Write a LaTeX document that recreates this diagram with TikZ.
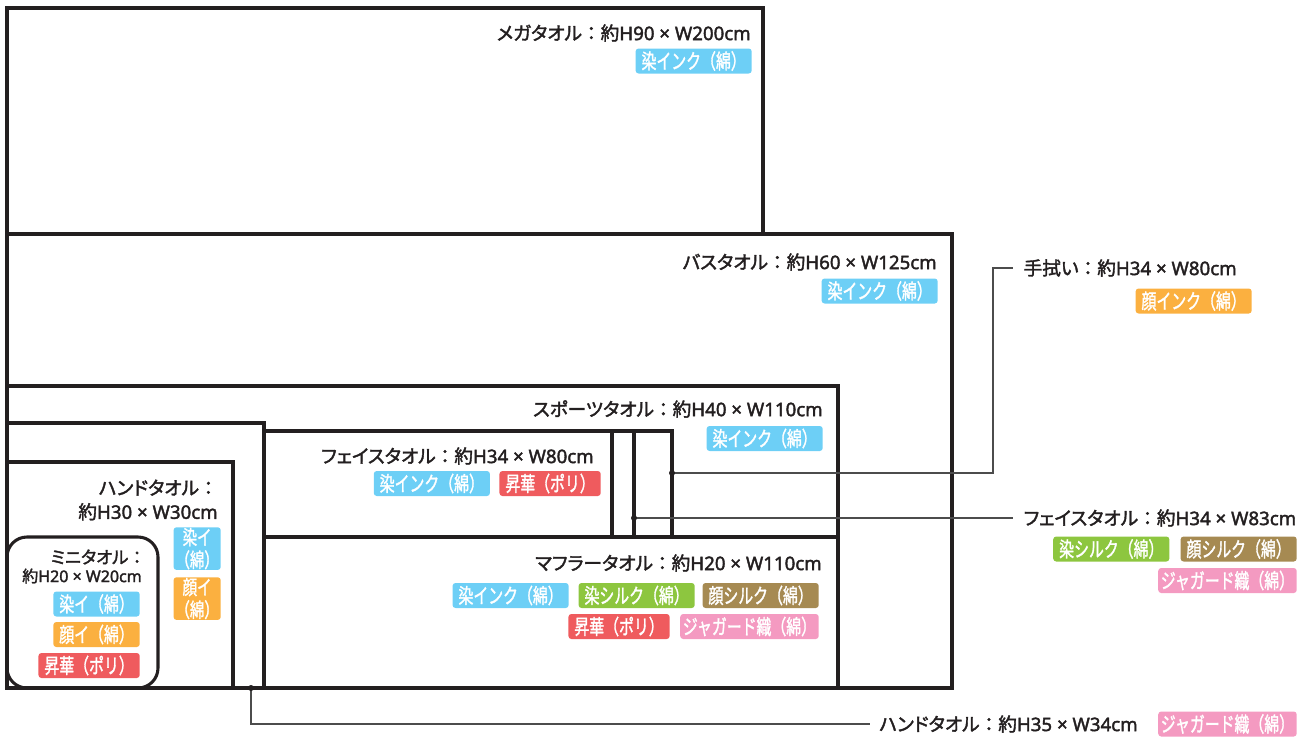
\documentclass[tikz,border=0pt]{standalone}
\usepackage{fontspec}
\setmainfont{Noto Sans CJK JP}
\newfontfamily\cjkfont[FakeBold=2]{Noto Sans CJK JP}
\newfontfamily\kanafont[RawFeature=+palt, FakeBold=2]{Noto Sans CJK JP}
\newfontfamily\latinfont[FakeBold=2]{Noto Sans}
\newfontfamily\tagfont[FakeStretch=0.72, FakeBold=1.5]{Noto Sans CJK JP}
\usetikzlibrary{positioning}
\definecolor{inkblack}{HTML}{231F20}
\definecolor{tagblue}{HTML}{6DCFF6}
\definecolor{tagorange}{HTML}{FBB040}
\definecolor{taggreen}{HTML}{8DC63F}
\definecolor{tagbrown}{HTML}{A68A52}
\definecolor{tagred}{HTML}{EF5B5E}
\definecolor{tagpink}{HTML}{F49AC1}
\tikzset{
  towel/.style={draw=inkblack, line width=2.3pt},
  sizelab/.style={font=\fontsize{14}{18}\selectfont\cjkfont, text=inkblack, inner sep=0pt, align=right},
  tag/.style={rounded corners=2.25pt, fill=#1, text=white, font=\fontsize{15.5}{16}\selectfont\tagfont,
              inner xsep=4.5pt, inner ysep=0pt, minimum height=18.75pt},
  tagtall/.style={tag=#1, anchor=north east, align=center, inner xsep=1.5pt, minimum height=32pt,
              font=\fontsize{15}{17}\selectfont\tagfont},
  leader/.style={draw=black!70, line width=0.9pt},
  pin/.style={circle, fill=inkblack, inner sep=0pt, minimum size=4.5pt},
}
\newcommand{\towelname}[2]{{\kanafont #1}：約{\latinfont #2}}

\begin{document}
\begin{tikzpicture}[x=0.75pt,y=-0.75pt]
\useasboundingbox (0,0) rectangle (1307,736);
% outlines, biggest first
\draw[towel] (7,8) rectangle (763,234);
\draw[towel] (7,234) rectangle (952,688);
\draw[towel] (7,386) rectangle (838,688);
\draw[towel] (7,423) rectangle (264,688);
\draw[towel] (7,462) rectangle (233,688);
\draw[towel] (264,431) rectangle (672,537);
\draw[towel] (612,431) -- (612,537);
\draw[towel] (634,431) -- (634,537);
\draw[towel] (264,537) rectangle (838,688);
\draw[towel, rounded corners=15pt] (7,537) rectangle (158,688);

\node[sizelab, anchor=east] (lmega) at (751,33) {\towelname{メガタオル}{H90 × W200cm}};
\node[tag=tagblue, anchor=east] (tmega) at (752,61) {染インク（綿）};

\node[sizelab, anchor=east] (lbath) at (937,262) {\towelname{バスタオル}{H60 × W125cm}};
\node[tag=tagblue, anchor=east] (tbath) at (938,291) {染インク（綿）};

\node[sizelab, anchor=east] (lsports) at (823,409) {\towelname{スポーツタオル}{H40 × W110cm}};
\node[tag=tagblue, anchor=east] (tsports) at (823,438.5) {染インク（綿）};

\node[sizelab, anchor=east] (lface) at (594,456) {\towelname{フェイスタオル}{H34 × W80cm}};
\node[tag=tagred, anchor=east] (tface2) at (601,483.5) {昇華（ポリ）};
\node[tag=tagblue, left=6.75pt of tface2] (tface1) {染インク（綿）};

\node[sizelab, anchor=east] (lmuffler) at (822,563) {\towelname{マフラータオル}{H20 × W110cm}};
\node[tag=tagbrown, anchor=east] (tmuf3) at (819,595.5) {顔シルク（綿）};
\node[tag=taggreen, left=5.5pt of tmuf3] (tmuf2) {染シルク（綿）};
\node[tag=tagblue, left=7pt of tmuf2] (tmuf1) {染インク（綿）};
\node[tag=tagpink, anchor=east, inner xsep=2pt] (tmuf5) at (819,626.5) {ジャガード織（綿）};
\node[tag=tagred, left=7.5pt of tmuf5] (tmuf4) {昇華（ポリ）};

% hand towel 30 and mini towel
\node[sizelab, anchor=east] (lhand) at (218,500) {{\kanafont ハンドタオル}：\\約{\latinfont H30 × W30cm}};
\node[tagtall=tagblue] (thand1) at (221,527) {染イ\\（綿）};
\node[tagtall=tagorange] (thand2) at (221,577) {顔イ\\（綿）};

\node[sizelab, anchor=east, font=\fontsize{13}{17}\selectfont\cjkfont] (lmini) at (146,557) {{\kanafont ミニタオル}：};
\node[sizelab, anchor=east, font=\fontsize{12}{15}\selectfont\cjkfont] (lminisize) at (142,576) {約{\latinfont H20 × W20cm}};
\node[tag=tagblue, anchor=east] (tmini1) at (140,604) {染イ（綿）};
\node[tag=tagorange, anchor=east] (tmini2) at (140,634.5) {顔イ（綿）};
\node[tag=tagred, anchor=east] (tmini3) at (140,665.5) {昇華（ポリ）};

% call-outs
\node[sizelab, anchor=west, outer xsep=8pt] (ltenugui) at (1013,268) {\towelname{手拭い}{H34 × W80cm}};
\node[tag=tagorange, anchor=east] (ttenugui) at (1252,301) {顔インク（綿）};

\node[sizelab, anchor=west, outer xsep=8pt] (lface83) at (1013,518) {\towelname{フェイスタオル}{H34 × W83cm}};
\node[tag=tagbrown, anchor=east] (tf83b) at (1297,549) {顔シルク（綿）};
\node[tag=taggreen, left=8pt of tf83b] (tf83a) {染シルク（綿）};
\node[tag=tagpink, anchor=east, inner xsep=2pt] (tf83c) at (1297,580.5) {ジャガード織（綿）};

\node[sizelab, anchor=west, outer xsep=7pt] (lhand35) at (870,724) {\towelname{ハンドタオル}{H35 × W34cm}};
\node[tag=tagpink, anchor=east, inner xsep=2pt] (thand35) at (1297,724) {ジャガード織（綿）};

\coordinate (ptenugui) at (672,473);
\coordinate (pface83) at (634,518);
\coordinate (phand35) at (251,688);
\coordinate (ktenugui) at (993,268);
\draw[leader] (ptenugui) -| (ktenugui) -- (ltenugui.west);
\draw[leader] (pface83) -- (lface83.west);
\draw[leader] (phand35) |- (lhand35.west);
\node[pin] (dtenugui) at (ptenugui) {};
\node[pin] (dface83) at (pface83) {};
\node[pin] (dhand35) at (phand35) {};
\end{tikzpicture}
\end{document}
